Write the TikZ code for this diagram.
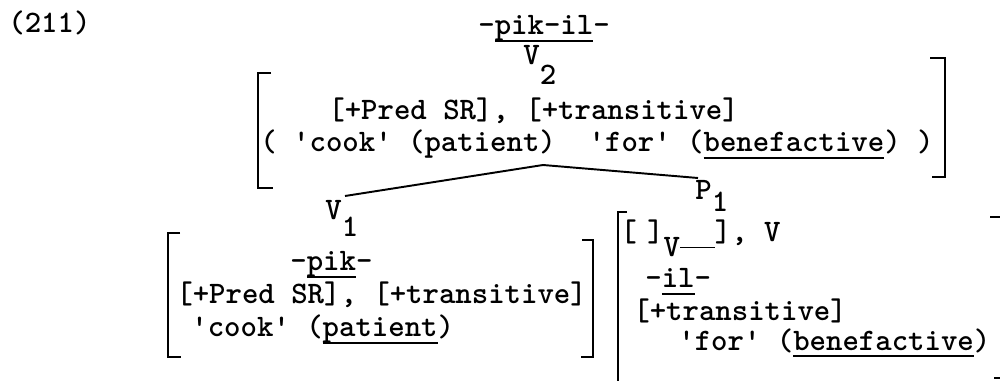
\documentclass[tikz,border=0pt]{standalone}
\newcommand{\qt}{\textquotesingle}
\newsavebox{\caixa}
\newcommand{\sublinha}[1]{\sbox{\caixa}{#1}\rlap{\rule[-3.8pt]{\wd\caixa}{0.9pt}}\usebox{\caixa}}
\begin{document}
\begin{tikzpicture}[x=0.02cm, y=-0.02cm,
    rotulo/.style={anchor=base west, inner sep=0pt, font=\fontsize{17.8}{20}\selectfont\ttfamily\bfseries},
    colchete/.style={line width=1.6pt},
    ramo/.style={line width=1.1pt}]
\useasboundingbox (0,0) rectangle (1000,381);
% Exemplo e raiz V2
\node[rotulo] (num) at (8,33) {(211)};
\node[rotulo] (raiz) at (478,35) {-\sublinha{pik-il}-};
\node[rotulo] (v2) at (523,65) {V\raisebox{-11pt}{2}};
% Traços de V2
\draw[colchete] (271,73) -- (258,73) -- (258,188) -- (273,188);
\draw[colchete] (930,58) -- (945,58) -- (945,177) -- (932,177);
\node[rotulo] (v2a) at (328,120) {[+Pred SR], [+transitive]};
\node[rotulo] (v2b) at (260,152) {( \qt cook\qt{} (patient)\ \ \qt for\qt{} (\sublinha{benefactive}) )};
% Ramos
\coordinate (topo) at (543,165);
\coordinate (v1topo) at (345,196);
\coordinate (p1topo) at (698,178);
\draw[ramo] (v1topo) -- (topo) -- (p1topo);
% V1
\node[rotulo] (v1) at (325,220) {V\raisebox{-9.6pt}{1}};
\draw[colchete] (180,233) -- (168,233) -- (168,357) -- (181,357);
\draw[colchete] (582,240) -- (593,240) -- (593,357) -- (581,357);
\node[rotulo] (v1raiz) at (290,271) {-\sublinha{pik}-};
\node[rotulo] (v1a) at (176,304) {[+Pred SR], [+transitive]};
\node[rotulo] (v1b) at (191,337) {\qt cook\qt{} (\sublinha{patient})};
% P1
\node[rotulo] (p1) at (695,200) {P\raisebox{-6.5pt}{1}};
\draw[colchete] (627,212) -- (618,212) -- (618,381);
\node[rotulo] (pvazio) at (620,242) {[\kern6pt]\raisebox{-8.5pt}{V}\rule[-3.4pt]{19.8pt}{0.6pt}], V};
\node[rotulo] (praiz) at (645,288) {-\sublinha{il}-};
\node[rotulo] (pa) at (633,320) {[+transitive]};
\node[rotulo] (pb) at (678,350) {\qt for\qt{} (\sublinha{benefactive})};
\draw[colchete] (990,217) -- (1000,217);
\draw[colchete] (994,378) -- (1000,378);
\end{tikzpicture}
\end{document}
